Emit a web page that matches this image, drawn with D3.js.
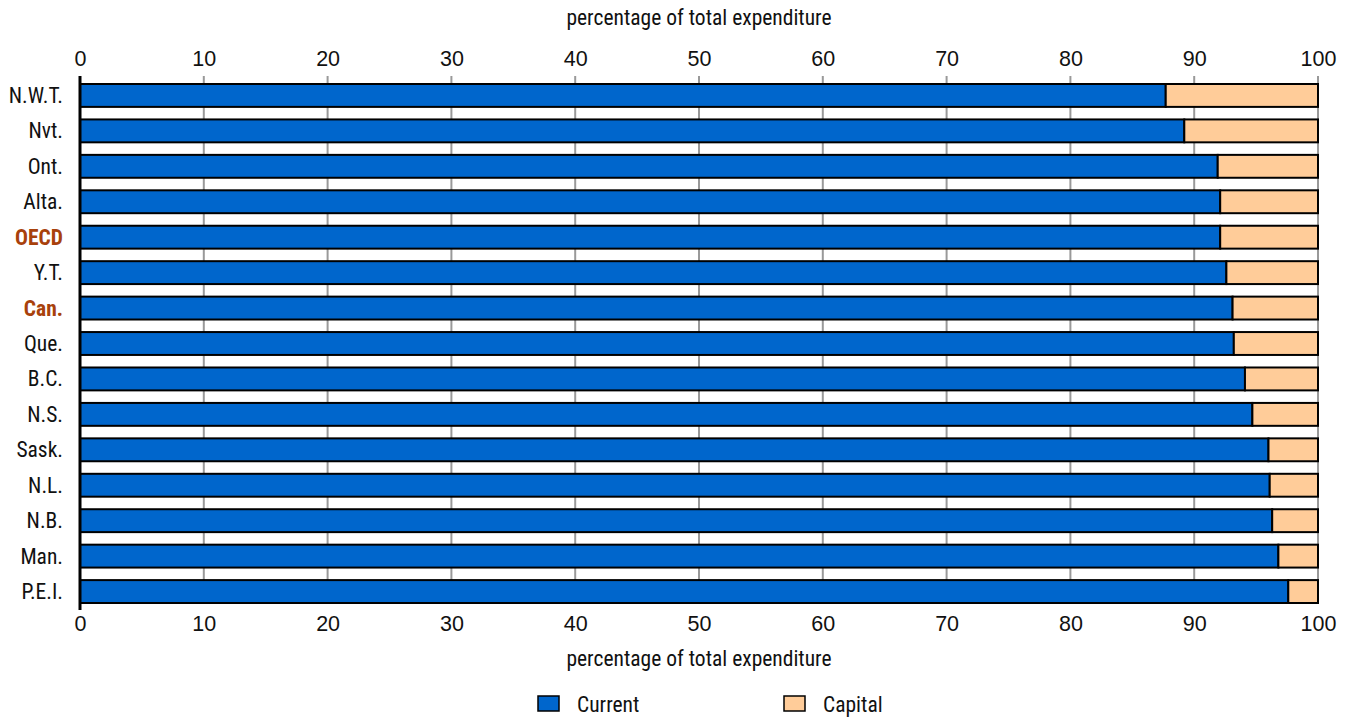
<!DOCTYPE html>
<html><head><meta charset="utf-8">
<script src="https://cdn.jsdelivr.net/npm/d3@7"></script>
<style>
body{margin:0;background:#fff;}
svg text{font-family:"Liberation Sans Narrow","Arial Narrow","Roboto Condensed","Liberation Sans",sans-serif;}
</style></head>
<body><svg id="c" width="1349" height="719"></svg>
<script>
const categories = ["N.W.T.","Nvt.","Ont.","Alta.","OECD","Y.T.","Can.","Que.","B.C.","N.S.","Sask.","N.L.","N.B.","Man.","P.E.I."];
const currentValues = [87.7,89.2,91.9,92.1,92.1,92.6,93.1,93.2,94.1,94.7,96.0,96.1,96.3,96.8,97.6];
const capitalValues = currentValues.map(v => +(100 - v).toFixed(1));
const highlighted = ["OECD","Can."];
const tickValues = [0,10,20,30,40,50,60,70,80,90,100];
const seriesNames = ["Current","Capital"];
const seriesColors = ["#0066cc","#ffcc99"];
const axisTitle = "percentage of total expenditure";

const svg = d3.select("#c");
const x = d3.scaleLinear().domain([0,100]).range([80,1318]);
const y = d3.scaleBand().domain(categories).range([84,603]).paddingInner(0.354).paddingOuter(0);

// gridlines
svg.append("g").selectAll("line").data(tickValues.filter(d=>d>0)).join("line")
  .attr("x1",d=>x(d)).attr("x2",d=>x(d)).attr("y1",76).attr("y2",603)
  .attr("stroke","#999").attr("stroke-width",2);

const data = categories.map((c,i)=>({cat:c,cur:currentValues[i],cap:capitalValues[i]}));
const g = svg.append("g");
g.selectAll("rect.cur").data(data).join("rect").attr("class","cur")
  .attr("x",x(0)).attr("y",d=>y(d.cat)).attr("width",d=>x(d.cur)-x(0)).attr("height",y.bandwidth())
  .attr("fill",seriesColors[0]).attr("stroke","#000").attr("stroke-width",2);
g.selectAll("rect.cap").data(data).join("rect").attr("class","cap")
  .attr("x",d=>x(d.cur)).attr("y",d=>y(d.cat)).attr("width",d=>x(d.cur+d.cap)-x(d.cur)).attr("height",y.bandwidth())
  .attr("fill",seriesColors[1]).attr("stroke","#000").attr("stroke-width",2);

// left axis line
svg.append("line").attr("x1",x(0)).attr("x2",x(0)).attr("y1",76).attr("y2",610)
  .attr("stroke","#000").attr("stroke-width",3);

// category labels
svg.append("g").selectAll("text").data(categories).join("text")
  .attr("x",63).attr("y",d=>y(d)+y.bandwidth()/2).attr("dy","0.35em")
  .attr("text-anchor","end").attr("font-size",21.5)
  .attr("font-weight",d=>highlighted.includes(d)?"bold":"normal")
  .attr("fill",d=>highlighted.includes(d)?"#a8410b":"#111")
  .text(d=>d);

// axes
const topAxis = d3.axisTop(x).tickValues(tickValues).tickSize(0).tickPadding(0);
const botAxis = d3.axisBottom(x).tickValues(tickValues).tickSize(0).tickPadding(0);
const ta = svg.append("g").attr("transform","translate(0,66)").call(topAxis);
const ba = svg.append("g").attr("transform","translate(0,616)").call(botAxis);
[ta,ba].forEach(a=>{a.select(".domain").remove();a.selectAll("text").attr("font-size",21.5).attr("fill","#111")
  .style("font-family",'"Liberation Sans Narrow","Arial Narrow",sans-serif');});

svg.append("text").attr("x",(x(0)+x(100))/2).attr("y",25).attr("text-anchor","middle").attr("font-size",21.5).attr("fill","#111").text(axisTitle);
svg.append("text").attr("x",(x(0)+x(100))/2).attr("y",666).attr("text-anchor","middle").attr("font-size",21.5).attr("fill","#111").text(axisTitle);

// legend
const legX = [538,784];
const leg = svg.append("g").selectAll("g").data(seriesNames).join("g")
  .attr("transform",(d,i)=>`translate(${legX[i]},696)`);
leg.append("rect").attr("width",21).attr("height",15).attr("fill",(d,i)=>seriesColors[i]).attr("stroke","#000").attr("stroke-width",1.5);
leg.append("text").attr("x",39).attr("y",8).attr("dy","0.38em").attr("font-size",21.5).attr("fill","#111").text(d=>d);
</script></body></html>
